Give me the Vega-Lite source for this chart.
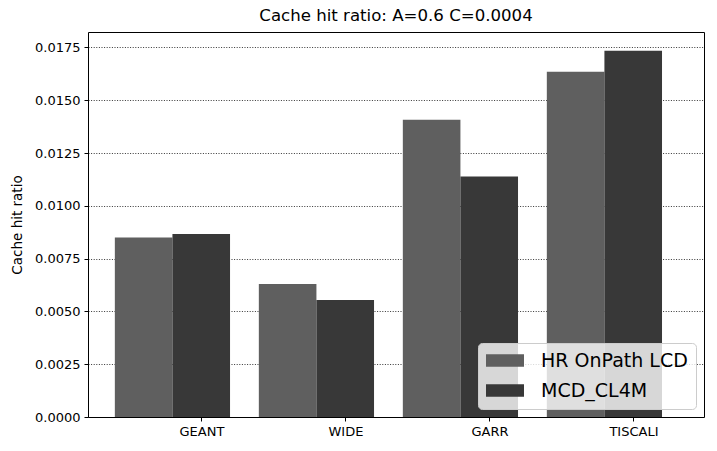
{
  "$schema": "https://vega.github.io/schema/vega-lite/v6.json",
  "autosize": "none",
  "width": 616,
  "height": 385,
  "padding": {"left": 88, "top": 32, "right": 13, "bottom": 34},
  "background": "white",
  "title": {"text": "Cache hit ratio: A=0.6 C=0.0004", "font": "DejaVu Sans", "fontSize": 16.6, "fontWeight": "normal", "color": "black", "offset": 7},
  "config": {
    "view": {"stroke": "black", "strokeWidth": 1},
    "axis": {"labelFont": "DejaVu Sans", "titleFont": "DejaVu Sans", "labelColor": "black", "titleColor": "black", "labelFontSize": 13, "titleFontSize": 13.5, "titleFontWeight": "normal", "tickColor": "black", "domain": false}
  },
  "data": {"values": [
    {"topology": "GEANT", "strategy": "HR OnPath LCD", "value": 0.00850},
    {"topology": "GEANT", "strategy": "MCD_CL4M", "value": 0.00867},
    {"topology": "WIDE", "strategy": "HR OnPath LCD", "value": 0.00630},
    {"topology": "WIDE", "strategy": "MCD_CL4M", "value": 0.00554},
    {"topology": "GARR", "strategy": "HR OnPath LCD", "value": 0.01407},
    {"topology": "GARR", "strategy": "MCD_CL4M", "value": 0.01139},
    {"topology": "TISCALI", "strategy": "HR OnPath LCD", "value": 0.01635},
    {"topology": "TISCALI", "strategy": "MCD_CL4M", "value": 0.01734}
  ]},
  "mark": {"type": "bar", "stroke": null},
  "encoding": {
    "x": {
      "field": "topology", "type": "nominal",
      "sort": ["GEANT", "WIDE", "GARR", "TISCALI"],
      "scale": {"paddingInner": 0.2, "paddingOuter": 0.239, "align": 0.39},
      "axis": {"title": null, "labelAngle": 0, "tickOffset": 29, "tickSize": 4, "labelPadding": 4, "grid": false}
    },
    "xOffset": {"field": "strategy", "type": "nominal", "sort": ["HR OnPath LCD", "MCD_CL4M"], "scale": {"paddingInner": 0, "paddingOuter": 0}},
    "y": {
      "field": "value", "type": "quantitative",
      "scale": {"domain": [0, 0.01823], "nice": false, "zero": true},
      "axis": {"title": "Cache hit ratio", "format": ".4f", "values": [0, 0.0025, 0.005, 0.0075, 0.01, 0.0125, 0.015, 0.0175], "tickSize": 4, "labelPadding": 4, "titlePadding": 10, "grid": true, "gridColor": "black", "gridDash": [1, 1.6], "gridWidth": 0.8, "gridOpacity": 1}
    },
    "color": {
      "field": "strategy", "type": "nominal",
      "sort": ["HR OnPath LCD", "MCD_CL4M"],
      "scale": {"domain": ["HR OnPath LCD", "MCD_CL4M"], "range": ["#5f5f5f", "#383838"]},
      "legend": {
        "title": null, "orient": "none", "legendX": 390, "legendY": 311,
        "labelFont": "DejaVu Sans", "labelFontSize": 19, "labelColor": "black", "labelLimit": 300,
        "symbolType": "M-1,-0.66H3V0.66H-1Z", "symbolSize": 361, "symbolStrokeWidth": 0, "symbolOpacity": 1,
        "rowPadding": 10, "labelOffset": 36,
        "fillColor": "rgba(255,255,255,0.8)", "strokeColor": "#cccccc", "cornerRadius": 4, "padding": 8
      }
    }
  }
}
